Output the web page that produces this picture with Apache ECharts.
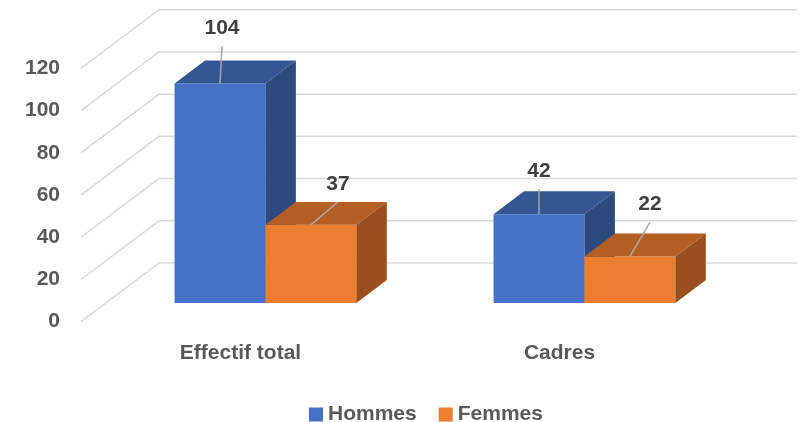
<!DOCTYPE html>
<html>
<head>
<meta charset="utf-8">
<title>Effectif</title>
<script src="https://cdn.jsdelivr.net/npm/echarts@6/dist/echarts.min.js"></script>
<style>
  html, body { margin: 0; padding: 0; background: #fff; }
  #chart { width: 809px; height: 422px; }
</style>
</head>
<body>
<div id="chart"></div>
<script>
// donnees
const categories = ['Effectif total', 'Cadres'];
const hommes = [104, 42];
const femmes = [37, 22];
const yTicks = [0, 20, 40, 60, 80, 100, 120];

// decalage des etiquettes (px) par rapport au haut de la barre
const hommesLabelShift = [[2, -55], [0, -43]];
const femmesLabelShift = [[27, -41], [20, -52]];

// perspective : profondeur du sol (avant -> mur du fond)
const DX = 78, DY = 58.7;
const FRONT = 0.32, DEPTH = 0.39;
const FONT = '"Liberation Sans", Arial, sans-serif';

const chart = echarts.init(document.getElementById('chart'));

function gridRender(params, api) {
  const cs = params.coordSys;
  const y = api.coord([0, api.value(1)])[1];
  const x = cs.x;
  return {
    type: 'polyline',
    shape: { points: [[x, y], [x + DX, y - DY], [x + cs.width + DX, y - DY]] },
    style: { stroke: '#d9d9d9', lineWidth: 1.5, fill: null }
  };
}

function barRender(side, colors, shifts) {
  return function (params, api) {
    const i = api.value(0);
    const base = api.coord([i, 0]);
    const top = api.coord([i, api.value(1)]);
    const band = api.size([1, 0])[0];
    const bw = band * 0.285;
    const cx = base[0] + FRONT * DX + side * bw / 2;
    const x0 = cx - bw / 2, x1 = cx + bw / 2;
    const yb = base[1] - FRONT * DY;
    const yt = top[1] - FRONT * DY;
    const dx = DEPTH * DX, dy = -DEPTH * DY;
    const sh = shifts[params.dataIndex];
    const lx = cx + sh[0], ly = yt + sh[1];
    return {
      type: 'group',
      children: [
        { type: 'rect', shape: { x: x0, y: yt, width: bw, height: yb - yt }, style: { fill: colors[0] } },
        { type: 'polygon', shape: { points: [[x0, yt], [x1, yt], [x1 + dx, yt + dy], [x0 + dx, yt + dy]] }, style: { fill: colors[1] } },
        { type: 'polygon', shape: { points: [[x1, yt], [x1 + dx, yt + dy], [x1 + dx, yb + dy], [x1, yb]] }, style: { fill: colors[2] } },
        { type: 'line', shape: { x1: lx, y1: ly + 18, x2: cx, y2: yt }, style: { stroke: '#a6a6a6', lineWidth: 1.5 } },
        { type: 'text', style: { text: String(api.value(1)), x: lx, y: ly, align: 'center', verticalAlign: 'middle',
            font: 'bold 21px ' + FONT, fill: '#404040' } }
      ]
    };
  };
}

chart.setOption({
  animation: false,
  grid: { left: 81, right: 90, top: 68.4, bottom: 100.3 },
  legend: {
    data: ['Hommes', 'Femmes'],
    left: 304, top: 399,
    icon: 'rect', itemWidth: 14, itemHeight: 14, itemGap: 22,
    textStyle: { fontFamily: FONT, fontWeight: 'bold', fontSize: 21, color: '#595959' }
  },
  xAxis: {
    type: 'category', data: categories,
    axisLine: { show: false }, axisTick: { show: false }, splitLine: { show: false },
    axisLabel: { margin: 21, fontFamily: FONT, fontWeight: 'bold', fontSize: 21, color: '#595959' }
  },
  yAxis: {
    type: 'value', min: yTicks[0], max: yTicks[yTicks.length - 1], interval: 20,
    axisLine: { show: false }, axisTick: { show: false }, splitLine: { show: false },
    axisLabel: { margin: 21, fontFamily: FONT, fontWeight: 'bold', fontSize: 21, color: '#595959' }
  },
  series: [
    {
      type: 'custom', silent: true, clip: false,
      renderItem: gridRender,
      data: yTicks.map(v => [0, v])
    },
    {
      name: 'Hommes', type: 'custom', clip: false,
      itemStyle: { color: '#4472c4' },
      renderItem: barRender(-1, ['#4472c4', '#345794', '#2b4a7f'], hommesLabelShift),
      data: hommes.map((v, i) => [i, v])
    },
    {
      name: 'Femmes', type: 'custom', clip: false,
      itemStyle: { color: '#ed7d31' },
      renderItem: barRender(1, ['#ed7d31', '#b55e23', '#9b4f1c'], femmesLabelShift),
      data: femmes.map((v, i) => [i, v])
    }
  ]
});
</script>
</body>
</html>
